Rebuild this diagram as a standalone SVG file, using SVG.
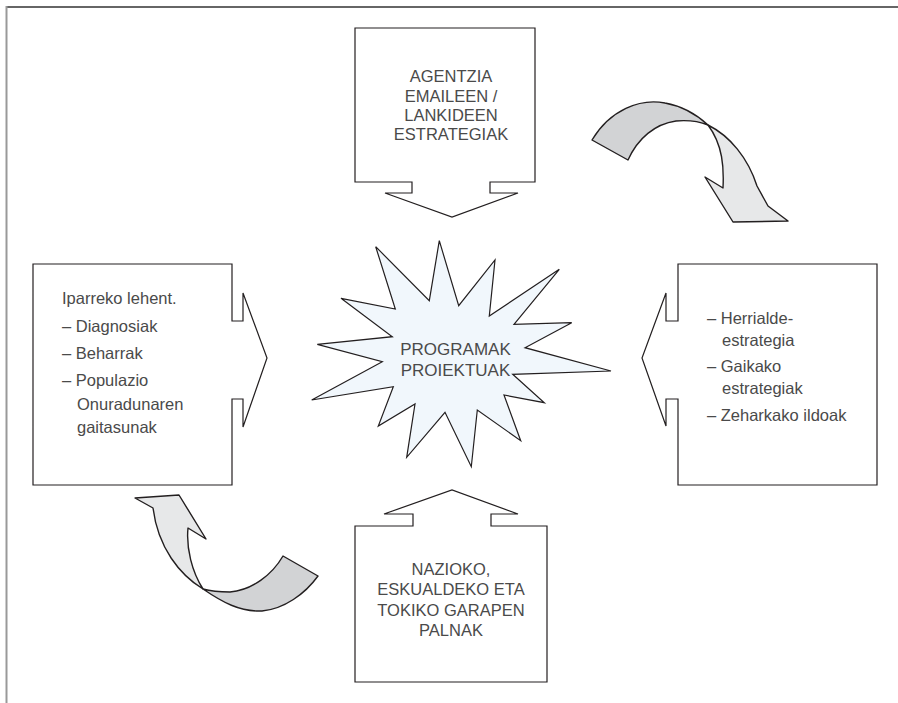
<svg xmlns="http://www.w3.org/2000/svg" width="898" height="703" viewBox="0 0 898 703">
<style>
.box{fill:#fff;stroke:#231f20;stroke-width:1.2;stroke-linejoin:miter}
.t{font-family:"Liberation Sans",Arial,sans-serif;font-size:16.5px;fill:#4a4a4a}
.c{text-anchor:middle}
.star{fill:#f1f7fc;stroke:#231f20;stroke-width:1.2}
.dk{fill:#d2d3d5;stroke:#231f20;stroke-width:1.4;stroke-linejoin:round}
.lt{fill:#e7e8e9;stroke:#231f20;stroke-width:1.4;stroke-linejoin:round}
</style>
<rect width="898" height="703" fill="#fff"/>
<line x1="6" y1="7" x2="898" y2="7" stroke="#333" stroke-width="1.5"/>
<line x1="6.5" y1="6" x2="6.5" y2="703" stroke="#999" stroke-width="2"/>
<g id="connectors">
<g id="arrow-top-right">
<path class="dk" d="M592,140 C610,110 640,98 665,103 C682,106 696,114 708,125 C698,121 688,120 676,121 C655,124 638,138 628,160 Z"/>
<path class="lt" d="M708,125 C730,136 748,158 757,186 L768,206 L788,221 L733,222 L705,177 L723,188 C724,168 723,145 708,125 Z"/>
</g>
<g id="arrow-bottom-left">
<path class="lt" d="M135,498 L179,495 L206,539 L188,528 C186,548 192,572 203,589 C180,575 158,548 153,508 Z"/>
<path class="dk" d="M203,589 C222,602 240,612 262,611 C284,609 305,594 318,576 L283,556 C272,575 252,590 230,592 C220,592 210,591 203,589 Z"/>
</g>
</g>
<g id="node-top">
<path class="box" d="M355,28 H535 V182 H490 V193 H518 L452,217 L385,193 H412 V182 H355 Z"/>
<text class="t c" x="451" y="82">AGENTZIA</text>
<text class="t c" x="451" y="101.5">EMAILEEN /</text>
<text class="t c" x="451" y="121">LANKIDEEN</text>
<text class="t c" x="451" y="140">ESTRATEGIAK</text>
</g>
<g id="node-left">
<path class="box" d="M33,264 H232 V321 H243 V293 L267,358 L243,427 V399 H232 V485 H33 Z"/>
<text class="t" x="62" y="304">Iparreko lehent.</text>
<text class="t" x="62" y="332">– Diagnosiak</text>
<text class="t" x="62" y="359">– Beharrak</text>
<text class="t" x="62" y="386">– Populazio</text>
<text class="t" x="77" y="410">Onuradunaren</text>
<text class="t" x="77" y="433">gaitasunak</text>
</g>
<g id="node-right">
<path class="box" d="M678,264 H877 V485 H678 V399 H666 V426 L642,358 L666,293 V321 H678 Z"/>
<text class="t" x="707" y="324">– Herrialde-</text>
<text class="t" x="722" y="346">estrategia</text>
<text class="t" x="707" y="372">– Gaikako</text>
<text class="t" x="722" y="394">estrategiak</text>
<text class="t" x="707" y="421">– Zeharkako ildoak</text>
</g>
<g id="node-bottom">
<path class="box" d="M355,526 H413 V514 H384 L452,490 L518,514 H491 V526 H547 V682 H355 Z"/>
<text class="t c" x="451" y="575">NAZIOKO,</text>
<text class="t c" x="451" y="595">ESKUALDEKO ETA</text>
<text class="t c" x="451" y="615.5">TOKIKO GARAPEN</text>
<text class="t c" x="451" y="636">PALNAK</text>
</g>
<g id="node-center">
<path class="star" d="M439.3,240.7 L458.7,305.7 L495,260 L489.3,316 L559.3,269.3 L514,324.3 L571.7,322.7 L525,347.7 L611,371 L512.7,374.3 L544.3,402.7 L504,395 L520.7,440.7 L477.3,410 L471.3,466.7 L445,412.3 L406.7,457.3 L415,404 L378.3,426 L393.3,386.7 L311.7,400 L382.3,361.7 L317.3,344.3 L392.3,336.7 L341,298.3 L395.3,309 L375.7,246.7 L429.3,300.7 Z"/>
<text class="t c" x="455.5" y="354.5" style="font-size:17px">PROGRAMAK</text>
<text class="t c" x="455.5" y="376" style="font-size:17px">PROIEKTUAK</text>
</g>
</svg>
